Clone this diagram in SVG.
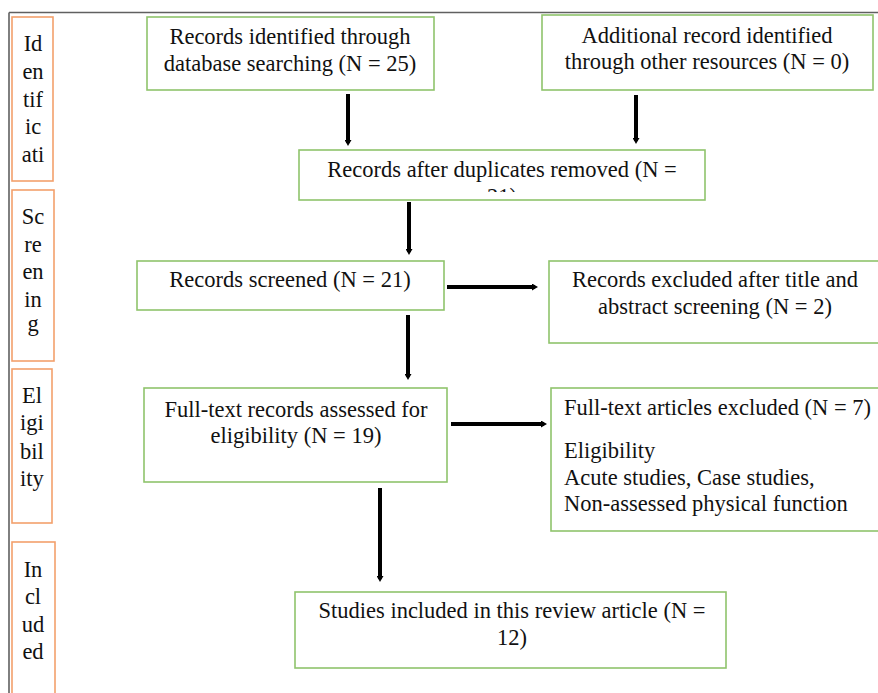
<svg xmlns="http://www.w3.org/2000/svg" width="878" height="693" viewBox="0 0 878 693" font-family="Liberation Serif, DejaVu Serif, serif">
<style>
  .g { fill: #ffffff; stroke: #8fc46c; stroke-width: 1.6; }
  .o { fill: #ffffff; stroke: #f3a06c; stroke-width: 1.6; }
  .t { font-size: 22.5px; fill: #111111; }
  .c { text-anchor: middle; }
  .arr { stroke: #000000; stroke-width: 4; fill: none; marker-end: url(#ah); }
  .frame { stroke: #606060; stroke-width: 1.6; fill: none; }
</style>
<defs>
  <marker id="ah" markerUnits="userSpaceOnUse" viewBox="0 0 6 7" refX="3" refY="3.5" markerWidth="6" markerHeight="7" orient="auto">
    <path d="M0,0 L6,3.5 L0,7 z" fill="#000000"/>
  </marker>
  <clipPath id="clip3"><rect x="299" y="150" width="406" height="42"/></clipPath>
</defs>

<g id="frame">
  <line class="frame" x1="9" y1="12.5" x2="878" y2="12.5"/>
  <line class="frame" x1="9" y1="12.5" x2="9" y2="693"/>
</g>

<g id="stage-identification" font-family="Liberation Serif, serif">
  <rect class="o" x="12" y="17" width="41" height="164"/>
  <text class="t c" x="33" y="51">Id</text>
  <text class="t c" x="33" y="79">en</text>
  <text class="t c" x="33" y="107">tif</text>
  <text class="t c" x="33" y="134">ic</text>
  <text class="t c" x="33" y="162">ati</text>
</g>
<g id="stage-screening" font-family="Liberation Serif, serif">
  <rect class="o" x="12" y="190" width="42" height="171"/>
  <text class="t c" x="33" y="224">Sc</text>
  <text class="t c" x="33" y="252">re</text>
  <text class="t c" x="33" y="279">en</text>
  <text class="t c" x="33" y="307">in</text>
  <text class="t c" x="33" y="331">g</text>
</g>
<g id="stage-eligibility" font-family="Liberation Serif, serif">
  <rect class="o" x="12" y="369" width="40" height="154"/>
  <text class="t c" x="32" y="403">El</text>
  <text class="t c" x="32" y="430">igi</text>
  <text class="t c" x="32" y="459">bil</text>
  <text class="t c" x="32" y="486">ity</text>
</g>
<g id="stage-included" font-family="Liberation Serif, serif">
  <rect class="o" x="12" y="542" width="43" height="160"/>
  <text class="t c" x="33" y="577">In</text>
  <text class="t c" x="33" y="604">cl</text>
  <text class="t c" x="33" y="632">ud</text>
  <text class="t c" x="33" y="659">ed</text>
</g>

<g id="n-identified" font-family="Liberation Serif, serif">
  <rect class="g" x="147" y="17" width="287" height="73"/>
  <text class="t c" x="290" y="44">Records identified through</text>
  <text class="t c" x="290" y="71">database searching (N = 25)</text>
</g>
<g id="n-additional" font-family="Liberation Serif, serif">
  <rect class="g" x="542" y="15" width="331" height="75"/>
  <text class="t c" x="707" y="43">Additional record identified</text>
  <text class="t c" x="707" y="69">through other resources (N = 0)</text>
</g>
<g id="n-duplicates" font-family="Liberation Serif, serif">
  <rect class="g" x="299" y="150" width="406" height="50"/>
  <text class="t c" x="502" y="177">Records after duplicates removed (N =</text>
  <text class="t c" x="502" y="204" clip-path="url(#clip3)">21)</text>
</g>
<g id="n-screened" font-family="Liberation Serif, serif">
  <rect class="g" x="137" y="261" width="307" height="49"/>
  <text class="t c" x="290" y="287">Records screened (N = 21)</text>
</g>
<g id="n-excluded" font-family="Liberation Serif, serif">
  <rect class="g" x="549" y="261" width="332" height="82"/>
  <text class="t c" x="715" y="287">Records excluded after title and</text>
  <text class="t c" x="715" y="314">abstract screening (N = 2)</text>
</g>
<g id="n-fulltext" font-family="Liberation Serif, serif">
  <rect class="g" x="144" y="388" width="303" height="94"/>
  <text class="t c" x="296" y="417">Full-text records assessed for</text>
  <text class="t c" x="296" y="443">eligibility (N = 19)</text>
</g>
<g id="n-fulltext-excluded" font-family="Liberation Serif, serif">
  <rect class="g" x="551" y="388" width="332" height="143"/>
  <text class="t" x="564" y="415">Full-text articles excluded (N = 7)</text>
  <text class="t" x="564" y="458">Eligibility</text>
  <text class="t" x="564" y="485">Acute studies, Case studies,</text>
  <text class="t" x="564" y="511">Non-assessed physical function</text>
</g>
<g id="n-included" font-family="Liberation Serif, serif">
  <rect class="g" x="295" y="592" width="431" height="76"/>
  <text class="t c" x="512" y="618">Studies included in this review article (N =</text>
  <text class="t c" x="512" y="645">12)</text>
</g>

<g id="connectors">
  <line class="arr" x1="348" y1="94" x2="348" y2="143"/>
  <line class="arr" x1="636" y1="95" x2="636" y2="141"/>
  <line class="arr" x1="409" y1="202" x2="409" y2="252"/>
  <line class="arr" x1="408" y1="315" x2="408" y2="377"/>
  <line class="arr" x1="380" y1="488" x2="380" y2="579"/>
  <line class="arr" x1="447" y1="287" x2="535" y2="287"/>
  <line class="arr" x1="451" y1="424" x2="544" y2="424"/>
</g>
</svg>
